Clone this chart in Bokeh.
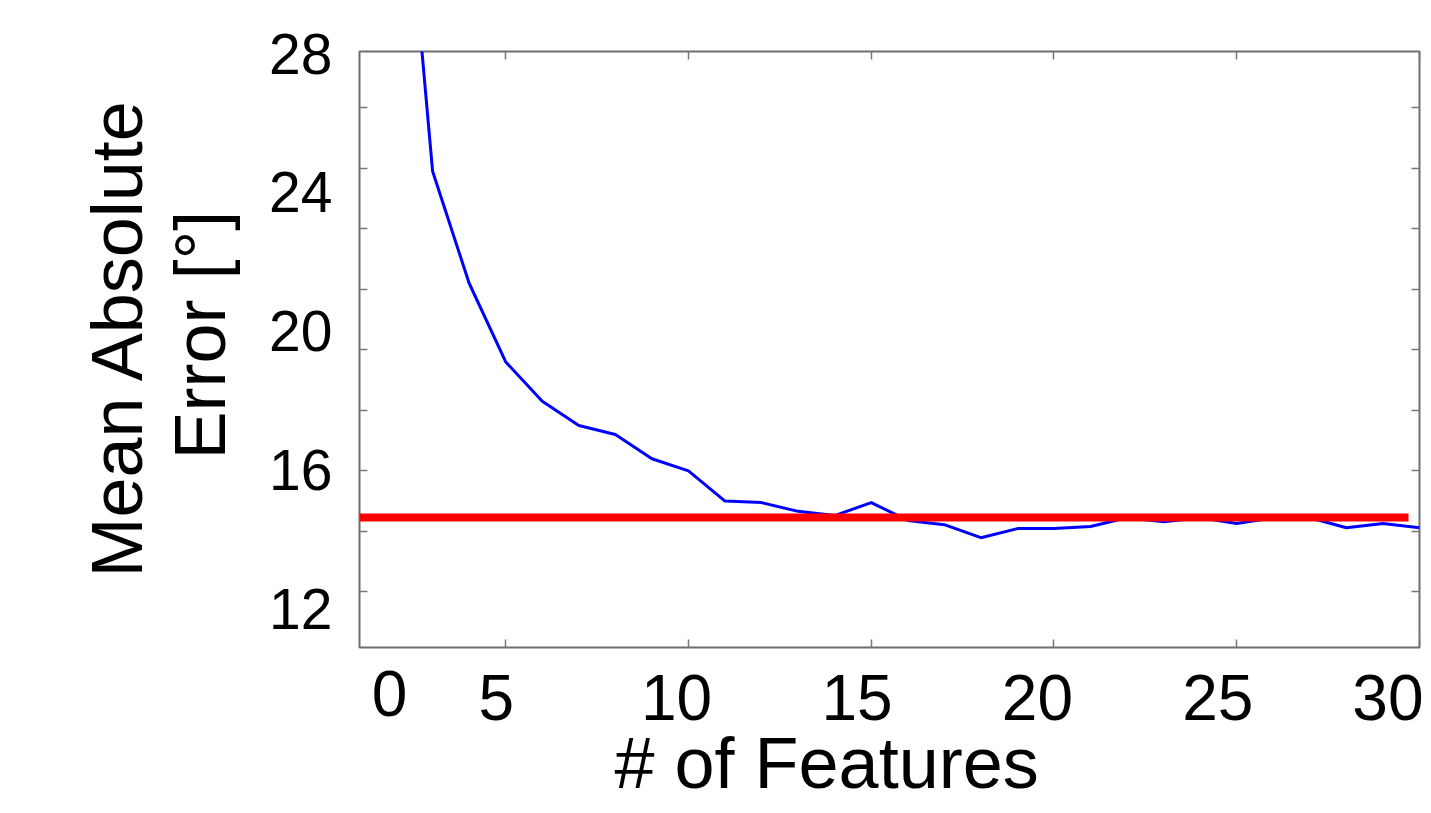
from bokeh.plotting import figure
from bokeh.models import Range1d, LinearAxis, FixedTicker, Title, CustomJSTickFormatter
from bokeh.embed import file_html
from bokeh.resources import INLINE

# ---- data ----
features = list(range(2, 31))
mae = [39.5, 25.9, 22.2, 19.6, 18.3, 17.5, 17.2, 16.4, 16.0, 15.0,
       14.95, 14.66, 14.52, 14.95, 14.36, 14.22, 13.79, 14.09, 14.09, 14.16,
       14.45, 14.32, 14.45, 14.26, 14.45, 14.45, 14.12, 14.26, 14.12]
baseline_x = [1, 29.7]
baseline_value = 14.46

x_ticks = [5, 10, 15, 20, 25, 30]
y_ticks = [12, 14, 16, 18, 20, 22, 24, 26, 28]
x_tick_labels = [5, 10, 15, 20, 25, 30]
x_zero_label = [0]
y_tick_labels = [12, 16, 20, 24, 28]

x_title = "# of Features"
y_title_1 = "Mean Absolute"
y_title_2 = "Error [°]"

FONT = "Liberation Sans"
FRAME = "#6e6e6e"
TICK = "#777777"

p = figure(width=1423, height=805,
           x_range=Range1d(1, 30), y_range=Range1d(10.16, 29.86),
           x_axis_location=None, y_axis_location=None,
           toolbar_location=None, output_backend="svg",
           min_border_left=359, min_border_right=4,
           min_border_top=51, min_border_bottom=158)
# the tick labels of the picture sit slightly off their ticks: own scales for them
p.extra_x_ranges = {"xlab": Range1d(1.211, 30.59), "xzero": Range1d(-0.821, 28.179)}
p.extra_y_ranges = {"ylab": Range1d(10.876, 28.058)}

p.background_fill_color = "white"
p.border_fill_color = "white"
p.outline_line_color = FRAME
p.outline_line_width = 2
p.grid.visible = False

blank = CustomJSTickFormatter(code="return ''")

def tick_axis(ticks, **kw):
    return LinearAxis(ticker=FixedTicker(ticks=ticks), formatter=blank,
                      major_tick_in=8, major_tick_out=0,
                      major_tick_line_color=TICK, major_tick_line_width=1.5,
                      minor_tick_line_color=None, axis_line_color=None,
                      major_label_standoff=0, major_label_text_font_size="1px", **kw)

def label_axis(ticks, size, standoff, **kw):
    return LinearAxis(ticker=FixedTicker(ticks=ticks),
                      major_tick_line_color=None, minor_tick_line_color=None,
                      axis_line_color=None, major_label_standoff=standoff,
                      major_label_text_font=FONT, major_label_text_font_size=size,
                      major_label_text_color="black", **kw)

p.add_layout(tick_axis(x_ticks), "below")
p.add_layout(label_axis(x_tick_labels, "64px", 21, x_range_name="xlab"), "below")
p.add_layout(label_axis(x_zero_label, "64px", -58, x_range_name="xzero"), "below")
p.add_layout(tick_axis(x_ticks), "above")
p.add_layout(tick_axis(y_ticks), "left")
p.add_layout(label_axis(y_tick_labels, "57px", 21, y_range_name="ylab"), "left")
p.add_layout(tick_axis(y_ticks), "right")

def title(text, offset, standoff):
    return Title(text=text, align="left", offset=offset, standoff=standoff,
                 text_font=FONT, text_font_size="72px", text_font_style="normal",
                 text_color="black")

p.add_layout(title(x_title, 255, -4), "below")
p.add_layout(title(y_title_2, 188, 54), "left")
p.add_layout(title(y_title_1, 70, -52), "left")

p.line(features, mae, line_width=3, color="#0000ff")
p.line(baseline_x, [baseline_value, baseline_value], line_width=8, color="#ff0000")

open("out.html", "w").write(file_html(p, INLINE))
